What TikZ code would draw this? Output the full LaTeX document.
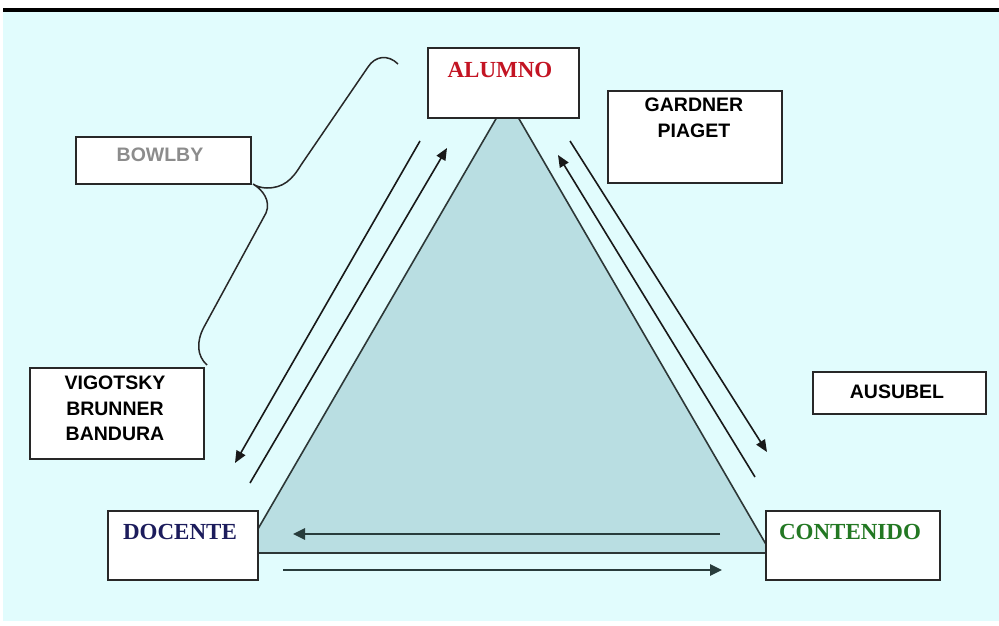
\documentclass[tikz,border=0pt]{standalone}
\usepackage{fontspec}
\setmainfont{Liberation Serif}
\setsansfont{Liberation Sans}
\usetikzlibrary{arrows.meta}
\definecolor{bgcyan}{RGB}{225,252,253}
\definecolor{trifill}{RGB}{185,222,226}
\definecolor{triline}{RGB}{45,55,55}
\definecolor{boxline}{RGB}{40,40,40}
\definecolor{alumnored}{RGB}{195,20,35}
\definecolor{docnavy}{RGB}{28,28,92}
\definecolor{contgreen}{RGB}{35,120,35}
\definecolor{bowgray}{RGB}{140,140,140}
\definecolor{arrline}{RGB}{25,25,25}
\definecolor{barrline}{RGB}{40,60,60}
\begin{document}
\begin{tikzpicture}[x=1pt,y=-1pt,
  box/.style={draw=boxline, fill=white, line width=1.7pt, inner sep=0pt, anchor=north west},
  serift/.style={font=\fontsize{23}{26}\selectfont\bfseries, inner sep=0pt},
  sanst/.style={font=\fontsize{19.5}{25.5}\selectfont\sffamily\bfseries, inner sep=0pt, align=center},
  arr/.style={draw=arrline, line width=1.6pt, -{Triangle[length=12pt,width=10pt]}},
  barr/.style={draw=barrline, line width=2.6pt, -{Triangle[length=12pt,width=11pt]}},
  bracepath/.style={draw=boxline, line width=1.5pt}
]
\useasboundingbox (0,0) rectangle (999,626);
\fill[white] (0,0) rectangle (999,626);
\fill[bgcyan] (3,12) rectangle (999,621);
\fill[black] (3,8) rectangle (999,12);

% triangle
\filldraw[fill=trifill, draw=triline, line width=1.6pt] (507.5,99) -- (244,553) -- (771,553) -- cycle;

% brace
\draw[bracepath] (398,64) .. controls (388,54) and (375,56) .. (368,67)
  -- (301,165) .. controls (292,180) and (283,188) .. (267,188)
  .. controls (261,188) and (256,186) .. (253,184)
  .. controls (263,190) and (271,201) .. (266,213)
  -- (204,327) .. controls (196,342) and (197,356) .. (207,365);

% boxes
\node[box, minimum width=151pt, minimum height=70pt] (alumno) at (427,47) {};
\node[box, minimum width=174pt, minimum height=92pt] (gardner) at (607,90) {};
\node[box, minimum width=175pt, minimum height=47pt] (bowlby) at (75,136) {};
\node[box, minimum width=174pt, minimum height=91pt] (vigotsky) at (29,367) {};
\node[box, minimum width=173pt, minimum height=42pt] (ausubel) at (812,371) {};
\node[box, minimum width=150pt, minimum height=69pt] (docente) at (107,510) {};
\node[box, minimum width=174pt, minimum height=69pt] (contenido) at (765,510) {};

% texts
\node[serift, text=alumnored] (alumnoT) at (500,70) {ALUMNO};
\node[serift, text=docnavy] (docenteT) at (180,532) {DOCENTE};
\node[serift, text=contgreen] (contenidoT) at (850,532) {CONTENIDO};
\node[sanst] (gardnerT) at (694,118) {GARDNER\\PIAGET};
\node[sanst] (vigotskyT) at (115,408.5) {VIGOTSKY\\BRUNNER\\BANDURA};
\node[sanst] (ausubelT) at (897,392) {AUSUBEL};
\node[sanst, text=bowgray] (bowlbyT) at (160,155) {BOWLBY};

% arrow end points
\coordinate (a1s) at (420,141); \coordinate (a1e) at (235,463);
\coordinate (a2s) at (250,483); \coordinate (a2e) at (447,148);
\coordinate (a3s) at (755,477); \coordinate (a3e) at (558,155);
\coordinate (a4s) at (570,141); \coordinate (a4e) at (767,452);
\coordinate (a5s) at (720,534); \coordinate (a5e) at (293,534);
\coordinate (a6s) at (283,570); \coordinate (a6e) at (722,570);

\draw[arr] (a1s) -- (a1e);
\draw[arr] (a2s) -- (a2e);
\draw[arr] (a3s) -- (a3e);
\draw[arr] (a4s) -- (a4e);
\draw[barr] (a5s) -- (a5e);
\draw[barr] (a6s) -- (a6e);
\end{tikzpicture}
\end{document}
